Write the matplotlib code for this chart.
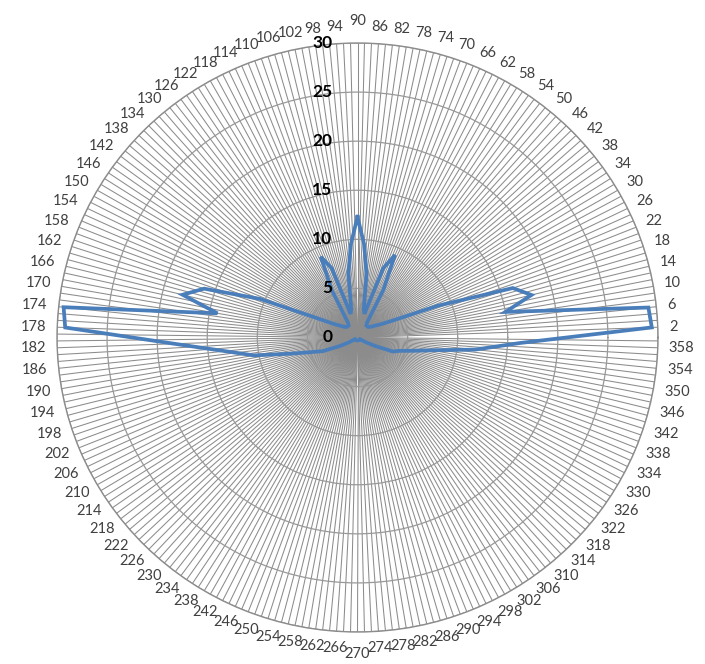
import numpy as np
import matplotlib
matplotlib.use("Agg")
import matplotlib.pyplot as plt
from matplotlib.transforms import offset_copy

# -------------------- Data --------------------

# category angles, as they run clockwise from the top of the radar
angles = [90, 86, 82, 78, 74, 70, 66, 62, 58, 54, 50, 46, 42, 38, 34, 30,
          26, 22, 18, 14, 10, 6, 2, 358, 354, 350, 346, 342, 338, 334, 330,
          326, 322, 318, 314, 310, 306, 302, 298, 294, 290, 286, 282, 278,
          274, 270, 266, 262, 258, 254, 250, 246, 242, 238, 234, 230, 226,
          222, 218, 214, 210, 206, 202, 198, 194, 190, 186, 182, 178, 174,
          170, 166, 162, 158, 154, 150, 146, 142, 138, 134, 130, 126, 122,
          118, 114, 110, 106, 102, 98, 94]

values = [12.3, 9.5, 6.5, 3.0, 2.5, 7.5, 9.2, 5.5, 1.8, 1.5, 1.5, 1.5, 1.6,
          1.8, 2.2, 2.7, 4.0, 8.6, 16.3, 17.9, 15.0, 29.2, 29.4,
          16.2, 11.8, 7.5, 5.6, 4.4, 3.8, 2.0, 1.0,
          0.3, 0.3, 0.3, 0.3, 0.3, 0.3, 0.3, 0.3, 0.3, 0.3, 0.3, 0.3, 0.3,
          0.3, 0.3, 0.3, 0.3, 0.3, 0.3, 0.3, 0.3, 0.3, 0.3, 0.3, 0.3, 0.3,
          0.3, 0.3, 0.3,
          1.0, 2.0, 3.7, 4.8, 6.8, 10.5, 13.3, 18.3, 29.2, 29.5,
          14.2, 18.0, 16.1, 10.5, 4.5, 2.8, 2.2, 1.8, 1.6, 1.5, 1.5, 1.5,
          1.8, 5.5, 9.0, 7.5, 2.5, 3.0, 6.5, 9.5]

r_ticks = [0, 5, 10, 15, 20, 25, 30]

# -------------------- Plot --------------------

fig = plt.figure(figsize=(7.05, 6.64), dpi=100)
ax = fig.add_axes([57 / 705, 32 / 664, 601 / 705, 589 / 664], projection="polar")
ax.set_aspect("auto")
ax.set_theta_zero_location("E")
ax.set_theta_direction(1)

# dense spokes like the excel radar (3 per labelled category)
spokes = np.deg2rad(np.arange(2, 360, 4 / 3))
ax.set_xticks(spokes)
ax.set_xticklabels([])
ax.set_yticks(r_ticks[1:])
ax.set_yticklabels([])
ax.set_thetalim(0, 2 * np.pi)
ax.set_ylim(0, 30)
ax.xaxis.grid(True, color="#8c8c8c", linewidth=0.75)
ax.yaxis.grid(True, color="#999999", linewidth=0.9)
ax.spines["polar"].set_color("#8c8c8c")
ax.spines["polar"].set_linewidth(1.0)
ax.tick_params(length=0)

theta = np.deg2rad(angles + angles[:1])
ax.plot(theta, values + values[:1], color="#4a7ebb", linewidth=2.7,
        solid_joinstyle="miter")

# category labels round the rim, centred and pushed out by half their box
fs = 10.5
pad = 8
for a in angles:
    t = np.deg2rad(a)
    c, s = np.cos(t), np.sin(t)
    half_w = len(str(a)) * 0.29 * fs
    half_h = 0.38 * fs
    if abs(c) < 0.01:
        half_h += 4  # excel lifts the straight up / down labels clear
    tr = offset_copy(ax.transData, fig=fig, x=(pad + half_w) * c,
                     y=(pad + half_h) * s, units="points")
    ax.text(t, 30, str(a), transform=tr, ha="center", va="center",
            fontsize=fs, color="#404040", family="Lato")

# radial axis labels up the 90 spoke
for r in r_ticks:
    tr = offset_copy(ax.transData, fig=fig, x=-18, y=0, units="points")
    ax.text(np.pi / 2, r, str(r), transform=tr, ha="right", va="center",
            fontsize=12.5, fontweight="bold", color="black", family="Lato")

fig.savefig("out.png", dpi=100)
